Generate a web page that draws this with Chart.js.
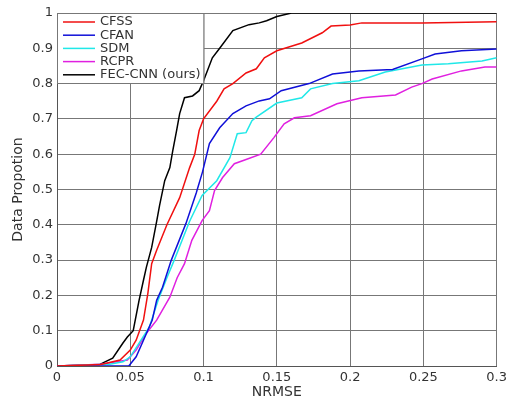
<!DOCTYPE html>
<html>
<head>
<meta charset="utf-8">
<script src="https://cdn.jsdelivr.net/npm/chart.js@4.4.1/dist/chart.umd.min.js"></script>
<style>
  html, body { margin: 0; padding: 0; background: #fff; }
  #wrap { width: 511px; height: 402px; }
</style>
</head>
<body>
<div id="wrap"><canvas id="myChart"></canvas></div>
<script>
// values (NRMSE vs. data proportion)
const cfssX = [0, 0.03, 0.043, 0.05, 0.054, 0.059, 0.062, 0.0646, 0.068, 0.075, 0.0837, 0.0905, 0.094, 0.097, 0.100, 0.109, 0.114, 0.120, 0.129, 0.136, 0.1415, 0.150, 0.167, 0.181, 0.187, 0.200, 0.208, 0.249, 0.300];
const cfssY = [0, 0.004, 0.017, 0.045, 0.073, 0.13, 0.206, 0.29, 0.328, 0.40, 0.477, 0.562, 0.60, 0.667, 0.70, 0.75, 0.785, 0.80, 0.83, 0.842, 0.873, 0.893, 0.915, 0.944, 0.963, 0.966, 0.972, 0.972, 0.975];

const cfanX = [0, 0.049, 0.054, 0.059, 0.065, 0.068, 0.072, 0.078, 0.088, 0.095, 0.0993, 0.104, 0.111, 0.120, 0.129, 0.138, 0.145, 0.153, 0.172, 0.188, 0.206, 0.229, 0.249, 0.258, 0.276, 0.300];
const cfanY = [0, 0, 0.026, 0.073, 0.13, 0.186, 0.223, 0.30, 0.404, 0.49, 0.55, 0.63, 0.675, 0.715, 0.737, 0.751, 0.757, 0.78, 0.80, 0.827, 0.836, 0.84, 0.87, 0.884, 0.893, 0.898];

const sdmX = [0, 0.035, 0.045, 0.05, 0.056, 0.063, 0.069, 0.075, 0.08, 0.088, 0.0905, 0.099, 0.109, 0.118, 0.123, 0.129, 0.133, 0.136, 0.150, 0.167, 0.173, 0.188, 0.206, 0.224, 0.249, 0.267, 0.29, 0.3];
const sdmY = [0, 0.004, 0.012, 0.026, 0.065, 0.11, 0.186, 0.25, 0.30, 0.384, 0.41, 0.483, 0.525, 0.59, 0.658, 0.661, 0.695, 0.705, 0.745, 0.76, 0.785, 0.80, 0.808, 0.833, 0.853, 0.856, 0.864, 0.873];

const rcprX = [0, 0.03, 0.048, 0.054, 0.061, 0.068, 0.077, 0.082, 0.087, 0.092, 0.099, 0.104, 0.1075, 0.113, 0.121, 0.129, 0.139, 0.148, 0.155, 0.162, 0.173, 0.191, 0.208, 0.231, 0.242, 0.249, 0.256, 0.276, 0.292, 0.3];
const rcprY = [0, 0.005, 0.017, 0.045, 0.093, 0.13, 0.195, 0.25, 0.29, 0.356, 0.412, 0.44, 0.497, 0.534, 0.573, 0.585, 0.60, 0.647, 0.686, 0.703, 0.709, 0.743, 0.76, 0.768, 0.79, 0.80, 0.813, 0.836, 0.847, 0.847];

const fecX = [0, 0.029, 0.031, 0.038, 0.045, 0.048, 0.052, 0.056, 0.059, 0.061, 0.0646, 0.068, 0.070, 0.0735, 0.077, 0.079, 0.0816, 0.0837, 0.087, 0.0925, 0.097, 0.100, 0.106, 0.111, 0.120, 0.131, 0.138, 0.143, 0.150, 0.160, 0.300];
const fecY = [0, 0.004, 0.008, 0.022, 0.065, 0.082, 0.10, 0.186, 0.243, 0.28, 0.336, 0.41, 0.455, 0.525, 0.562, 0.61, 0.667, 0.715, 0.76, 0.765, 0.78, 0.808, 0.873, 0.90, 0.95, 0.967, 0.972, 0.978, 0.99, 1.0, 1.0];

const labels = ['CFSS', 'CFAN', 'SDM', 'RCPR', 'FEC-CNN (ours)'];
const colors = ['#f01010', '#1010d8', '#20e8e8', '#e020e0', '#000000'];

function pts(xs, ys) {
    return xs.map((x, i) => ({ x: x, y: ys[i] }));
}

// 0.10 -> "0.1", 1.0 -> "1"
function tickLabel(v) {
    return String(Math.round(v * 100) / 100);
}

const ctx = document.getElementById('myChart');
const font = 'DejaVu Sans';

// legend drawn on a white box inside the plot area, over the grid
const boxLegend = {
    id: 'boxLegend',
    afterDatasetsDraw(chart) {
        const c = chart.ctx;
        const a = chart.chartArea;
        const w = chart.scales.x.getPixelForValue(0.1) - a.left;
        const h = 70;
        c.save();
        c.fillStyle = '#fff';
        c.fillRect(a.left, a.top, w, h);
        c.strokeStyle = '#777';
        c.lineWidth = 1;
        c.strokeRect(a.left + 0.5, a.top + 0.5, w, h);
        c.font = '13px "' + font + '"';
        c.textBaseline = 'middle';
        chart.data.datasets.forEach((ds, i) => {
            const y = a.top + 9 + i * 13.2;
            c.strokeStyle = ds.borderColor;
            c.lineWidth = 1.5;
            c.beginPath();
            c.moveTo(a.left + 6, y);
            c.lineTo(a.left + 38, y);
            c.stroke();
            c.fillStyle = '#333';
            c.fillText(ds.label, a.left + 43, y);
        });
        c.restore();
    }
};

const datasets = [
    pts(cfssX, cfssY), pts(cfanX, cfanY), pts(sdmX, sdmY), pts(rcprX, rcprY), pts(fecX, fecY)
].map((d, i) => ({
    label: labels[i],
    data: d,
    borderColor: colors[i],
    borderWidth: 1.5,
    pointRadius: 0,
    tension: 0,
    fill: false
}));

new Chart(ctx, {
    type: 'line',
    data: { datasets: datasets },
    options: {
        responsive: true,
        maintainAspectRatio: false,
        animation: false,
        parsing: false,
        layout: { padding: { left: 0, right: 14, top: 13, bottom: 0 } },
        plugins: {
            legend: { display: false },
            tooltip: { enabled: false }
        },
        scales: {
            x: {
                type: 'linear',
                min: 0,
                max: 0.3,
                afterFit: (s) => { s.height = 36; },
                ticks: {
                    stepSize: 0.05,
                    color: '#333',
                    padding: 4,
                    callback: tickLabel,
                    font: { family: font, size: 13 }
                },
                grid: { color: '#777', lineWidth: 1, drawTicks: false },
                border: { color: '#555', width: 1 },
                title: {
                    display: true,
                    text: 'NRMSE',
                    color: '#333',
                    padding: { top: 0, bottom: 1 },
                    font: { family: font, size: 14 }
                }
            },
            y: {
                type: 'linear',
                min: 0,
                max: 1,
                afterFit: (s) => { s.width = 57; },
                ticks: {
                    stepSize: 0.1,
                    color: '#333',
                    padding: 4,
                    callback: tickLabel,
                    font: { family: font, size: 13 }
                },
                grid: { color: '#777', lineWidth: 1, drawTicks: false },
                border: { color: '#555', width: 1 },
                title: {
                    display: true,
                    text: 'Data Propotion',
                    color: '#333',
                    padding: { top: 10, bottom: 0 },
                    font: { family: font, size: 14 }
                }
            }
        }
    },
    plugins: [boxLegend]
});
</script>
</body>
</html>
